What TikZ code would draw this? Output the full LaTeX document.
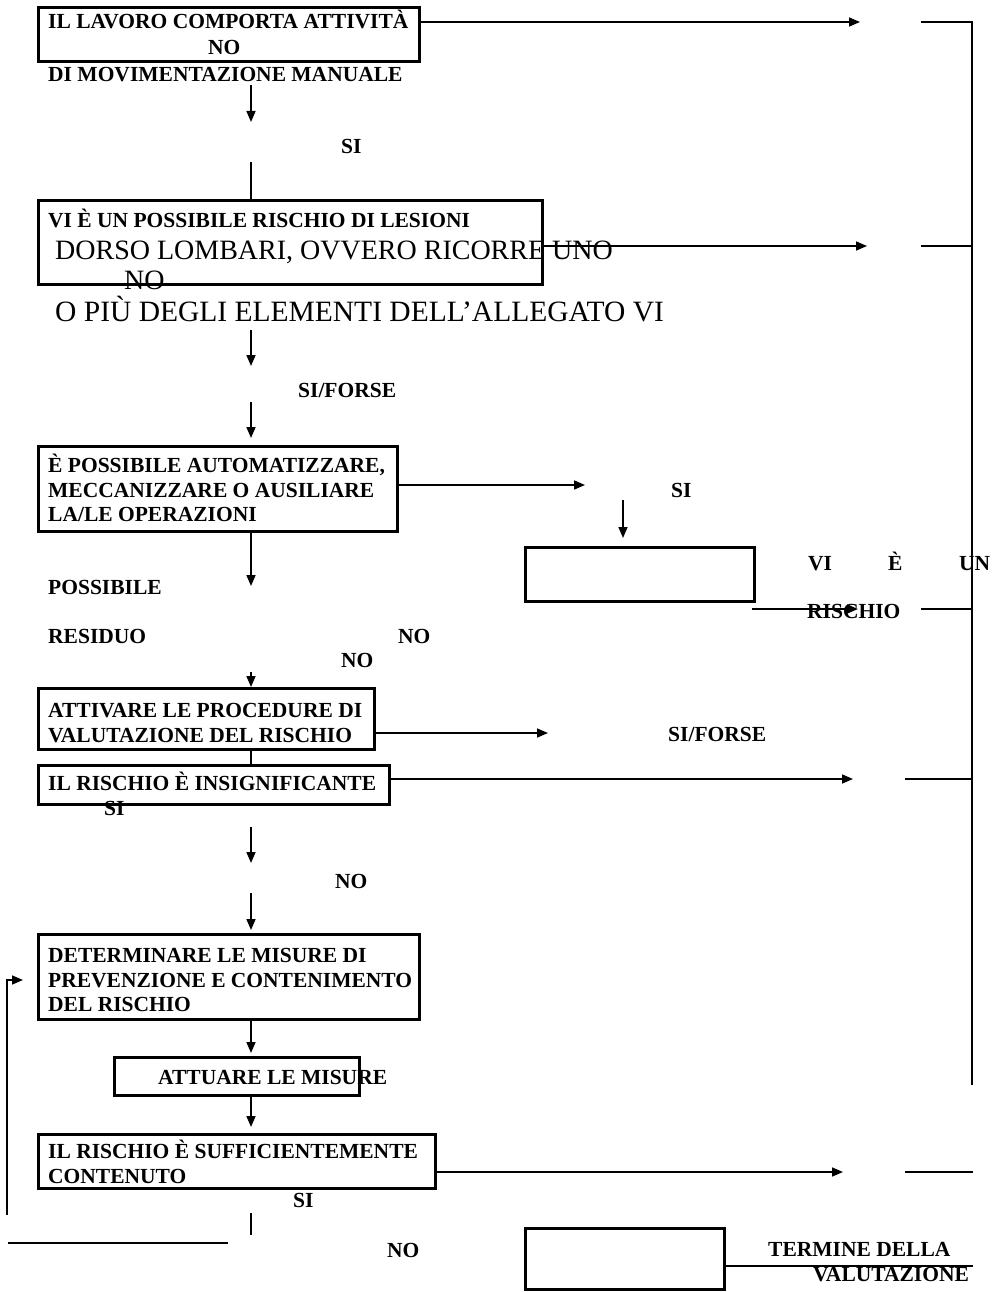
\documentclass[tikz,border=0pt]{standalone}
\usepackage{fontspec}
\setmainfont{Liberation Serif}
\usetikzlibrary{arrows.meta}
\begin{document}
\begin{tikzpicture}[x=1pt,y=-1pt,
  boxst/.style={draw, line width=2.8pt, inner sep=0pt, anchor=north west},
  bt/.style={font=\fontsize{21.5}{25}\selectfont\bfseries, anchor=base west, inner sep=0pt},
  rt/.style={font=\fontsize{28}{30}\selectfont, anchor=base west, inner sep=0pt},
  arr/.style={line width=1.6pt, -{Triangle[length=11pt,width=9pt]}},
  ln/.style={line width=1.6pt},
  brk/.style={line width=2.4pt}]
\useasboundingbox (0,0) rectangle (993,1292);

% coordinates
\coordinate (e1) at (860,22);
\coordinate (k1) at (921,22);
\coordinate (r1) at (972,22);
\coordinate (rb) at (972,1085);
\coordinate (d1s) at (251,85);
\coordinate (d1e) at (251,122);
\coordinate (l1s) at (251,162);
\coordinate (e2) at (867,246);
\coordinate (k2) at (921,246);
\coordinate (r2) at (972,246);
\coordinate (d2s) at (251,330);
\coordinate (d2e) at (251,366);
\coordinate (d3s) at (251,402);
\coordinate (d3e) at (251,438);
\coordinate (e3) at (585,485);
\coordinate (d4s) at (623,500);
\coordinate (d4e) at (623,538);
\coordinate (a5s) at (752,609);
\coordinate (e5) at (858,609);
\coordinate (k5) at (921,609);
\coordinate (r5) at (972,609);
\coordinate (d5e) at (251,586);
\coordinate (d6s) at (251,672);
\coordinate (e6) at (548,733);
\coordinate (e7) at (853,779);
\coordinate (k7) at (905,779);
\coordinate (r7) at (972,779);
\coordinate (d7s) at (251,827);
\coordinate (d7e) at (251,863);
\coordinate (d8s) at (251,893);
\coordinate (d8e) at (251,930);
\coordinate (lp1) at (7,1215);
\coordinate (lp2) at (7,980);
\coordinate (lp3) at (23,980);
\coordinate (d9e) at (251,1053);
\coordinate (d10e) at (251,1127);
\coordinate (e9) at (843,1172);
\coordinate (k9) at (905,1172);
\coordinate (r9) at (973,1172);
\coordinate (s1) at (251,1213);
\coordinate (s2) at (251,1235);
\coordinate (h1) at (8,1243);
\coordinate (h2) at (228,1243);
\coordinate (t10) at (973,1266);

% boxes
\node[boxst, minimum width=381pt, minimum height=54pt] (b1) at (37,6) {};
\node[boxst, minimum width=504pt, minimum height=84pt] (b2) at (37,199) {};
\node[boxst, minimum width=359pt, minimum height=85pt] (b3) at (37,445) {};
\node[boxst, minimum width=229pt, minimum height=54pt] (b4) at (524,546) {};
\node[boxst, minimum width=336pt, minimum height=61pt] (b5) at (37,687) {};
\node[boxst, minimum width=351pt, minimum height=39pt] (b6) at (37,764) {};
\node[boxst, minimum width=381pt, minimum height=85pt] (b7) at (37,933) {};
\node[boxst, minimum width=245pt, minimum height=38pt] (b8) at (113,1056) {};
\node[boxst, minimum width=397pt, minimum height=54pt] (b9) at (37,1133) {};
\node[boxst, minimum width=199pt, minimum height=61pt] (b10) at (524,1227) {};

% right bracket
\draw[brk] (k1) -- (r1) -- (rb);
\draw[brk] (k2) -- (r2);
\draw[brk] (k5) -- (r5);
\draw[brk] (k7) -- (r7);
\draw[brk] (k9) -- (r9);

% connectors
\draw[arr] (b1.east |- e1) -- (e1);
\draw[arr] (d1s) -- (d1e);
\draw[ln] (l1s) -- (l1s |- b2.north);
\draw[arr] (b2.east |- e2) -- (e2);
\draw[arr] (d2s) -- (d2e);
\draw[arr] (d3s) -- (d3e);
\draw[arr] (b3.east |- e3) -- (e3);
\draw[arr] (d4s) -- (d4e);
\draw[arr] (a5s) -- (e5);
\draw[arr] (b3.south -| d5e) -- (d5e);
\draw[arr] (d6s) -- (d6s |- b5.north);
\draw[arr] (b5.east |- e6) -- (e6);
\draw[ln] (b5.south -| d6s) -- (b6.north -| d6s);
\draw[arr] (b6.east |- e7) -- (e7);
\draw[arr] (d7s) -- (d7e);
\draw[arr] (d8s) -- (d8e);
\draw[arr] (lp1) -- (lp2) -- (lp3);
\draw[arr] (b7.south -| d9e) -- (d9e);
\draw[arr] (b8.south -| d10e) -- (d10e);
\draw[arr] (b9.east |- e9) -- (e9);
\draw[brk] (s1) -- (s2);
\draw[brk] (h1) -- (h2);
\draw[brk] (b10.east |- t10) -- (t10);

% texts
\node[bt] (t1a) at (48,29) {IL LAVORO COMPORTA ATTIVITÀ};
\node[bt] (t1b) at (208,55) {NO};
\node[bt] (t1c) at (48,82) {DI MOVIMENTAZIONE MANUALE};
\node[bt] (t1d) at (341,154) {SI};
\node[bt] (t2a) at (48,227) {VI È UN POSSIBILE RISCHIO DI LESIONI};
\node[rt] (t2b) at (55,259) {DORSO LOMBARI, OVVERO RICORRE UNO};
\node[rt] (t2c) at (124,289) {NO};
\node[rt, font=\fontsize{29.5}{31}\selectfont] (t2d) at (55,321) {O PIÙ DEGLI ELEMENTI DELL’ALLEGATO VI};
\node[bt] (t2e) at (298,397) {SI/FORSE};
\node[bt] (t3a) at (48,472) {È POSSIBILE AUTOMATIZZARE,};
\node[bt] (t3b) at (48,497) {MECCANIZZARE O AUSILIARE};
\node[bt] (t3c) at (48,521) {LA/LE OPERAZIONI};
\node[bt] (t3d) at (671,497) {SI};
\node[bt] (t4a) at (808,570) {VI};
\node[bt] (t4b) at (888,570) {È};
\node[bt] (t4c) at (959,570) {UN};
\node[bt] (t4d) at (807,618) {RISCHIO};
\node[bt] (t4e) at (48,594) {POSSIBILE};
\node[bt] (t4f) at (48,643) {RESIDUO};
\node[bt] (t4g) at (398,643) {NO};
\node[bt] (t4h) at (341,667) {NO};
\node[bt] (t5a) at (48,717) {ATTIVARE LE PROCEDURE DI};
\node[bt] (t5b) at (48,742) {VALUTAZIONE DEL RISCHIO};
\node[bt] (t5c) at (668,741) {SI/FORSE};
\node[bt] (t6a) at (48,790) {IL RISCHIO È INSIGNIFICANTE};
\node[bt] (t6b) at (104,815) {SI};
\node[bt] (t6c) at (335,888) {NO};
\node[bt] (t7a) at (48,962) {DETERMINARE LE MISURE DI};
\node[bt] (t7b) at (48,987) {PREVENZIONE E CONTENIMENTO};
\node[bt] (t7c) at (48,1011) {DEL RISCHIO};
\node[bt] (t8a) at (158,1084) {ATTUARE LE MISURE};
\node[bt] (t9a) at (48,1158) {IL RISCHIO È SUFFICIENTEMENTE};
\node[bt] (t9b) at (48,1183) {CONTENUTO};
\node[bt] (t9c) at (293,1207) {SI};
\node[bt] (t9d) at (387,1257) {NO};
\node[bt] (t10a) at (768,1256) {TERMINE DELLA};
\node[bt] (t10b) at (813,1281) {VALUTAZIONE};
\end{tikzpicture}
\end{document}
